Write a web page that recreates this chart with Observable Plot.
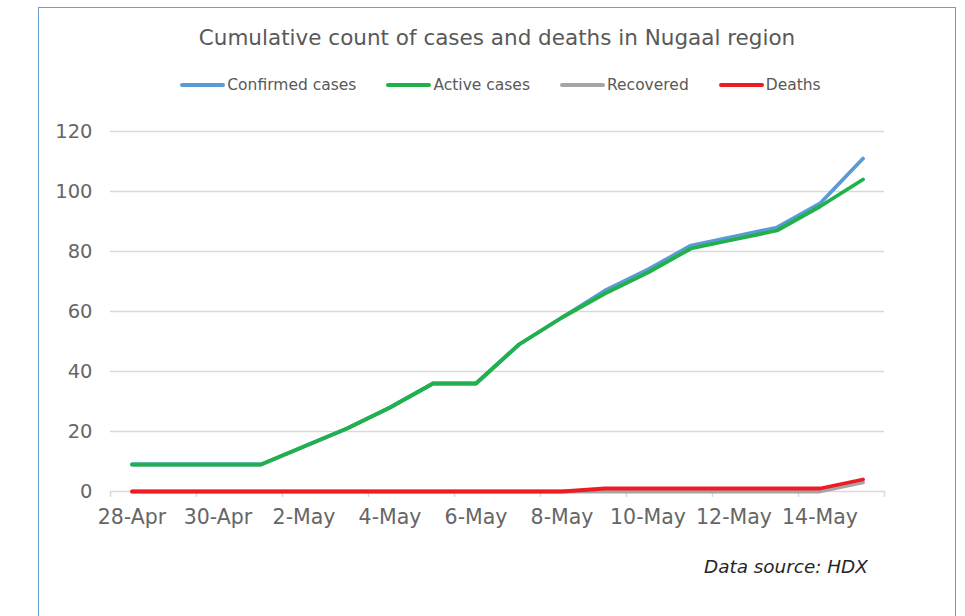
<!DOCTYPE html>
<html><head><meta charset="utf-8">
<script src="https://cdn.jsdelivr.net/npm/d3@7"></script>
<script src="https://cdn.jsdelivr.net/npm/@observablehq/plot@0.6"></script>
<style>
body{margin:0;background:#fff;}
#wrap{position:relative;width:965px;height:616px;overflow:hidden;font-family:"DejaVu Sans",sans-serif;background:#fff;}
#frame{position:absolute;left:38px;top:7px;width:916px;height:700px;border:1.5px solid #6a9fd8;}
#title{position:absolute;left:0;width:994px;top:25px;text-align:center;font-family:"DejaVu Sans",sans-serif;font-size:21.5px;color:#595959;white-space:nowrap;}
#legend{position:absolute;left:0;width:1001px;top:76px;display:flex;justify-content:center;font-family:"DejaVu Sans",sans-serif;font-size:15.5px;color:#595959;}
.item{display:flex;align-items:center;margin:0 15px;}
.sw{width:45px;height:4px;border-radius:2px;margin-right:2px;}
#plot{position:absolute;left:0;top:0;}
#caption{position:absolute;left:704px;top:556px;font-style:italic;font-size:18.4px;color:#262626;white-space:nowrap;}
</style></head>
<body>
<div id="wrap">
  <div id="frame"></div>
  <div id="plot"></div>
  <div id="title">Cumulative count of cases and deaths in Nugaal region</div>
  <div id="legend"></div>
  <div id="caption">Data source: HDX</div>
</div>
<script>
const dates = ["2020-04-28","2020-04-29","2020-04-30","2020-05-01","2020-05-02","2020-05-03","2020-05-04","2020-05-05","2020-05-06","2020-05-07","2020-05-08","2020-05-09","2020-05-10","2020-05-11","2020-05-12","2020-05-13","2020-05-14","2020-05-15"];
const confirmed = [9,9,9,9,15,21,28,36,36,49,58,67,74,82,85,88,96,111];
const active    = [9,9,9,9,15,21,28,36,36,49,58,66,73,81,84,87,95,104];
const recovered = [0,0,0,0,0,0,0,0,0,0,0,0,0,0,0,0,0,3];
const deaths    = [0,0,0,0,0,0,0,0,0,0,0,1,1,1,1,1,1,4];
const seriesNames = ["Confirmed cases","Active cases","Recovered","Deaths"];
const seriesColors = ["#5b9bd5","#21b14b","#a5a5a5","#ed1c24"];
const yTicks = [0,20,40,60,80,100,120];
const xLabelDates = ["2020-04-28","2020-04-30","2020-05-02","2020-05-04","2020-05-06","2020-05-08","2020-05-10","2020-05-12","2020-05-14"];
const xBoundaryDates = ["2020-04-27T12:00Z","2020-04-29T12:00Z","2020-05-01T12:00Z","2020-05-03T12:00Z","2020-05-05T12:00Z","2020-05-07T12:00Z","2020-05-09T12:00Z","2020-05-11T12:00Z","2020-05-13T12:00Z","2020-05-15T12:00Z"];

const parse = d => new Date(d.length === 10 ? d + "T00:00Z" : d);
const allSeries = [confirmed, active, recovered, deaths];
const rows = [];
allSeries.forEach((vals, s) => vals.forEach((v, i) => rows.push({date: parse(dates[i]), value: v, series: seriesNames[s]})));

const fmt = d3.utcFormat("%-d-%b");
const chart = Plot.plot({
  width: 965, height: 560,
  marginLeft: 110, marginRight: 81, marginTop: 131, marginBottom: 69,
  style: {fontFamily: "DejaVu Sans, sans-serif", background: "transparent", overflow: "visible"},
  x: {type: "utc", domain: [parse(xBoundaryDates[0]), parse(xBoundaryDates[xBoundaryDates.length - 1])]},
  y: {domain: [0, 120]},
  color: {domain: seriesNames, range: seriesColors},
  marks: [
    Plot.gridY(yTicks.filter(t => t > 0), {stroke: "#d9d9d9", strokeOpacity: 1, strokeWidth: 1.5}),
    Plot.ruleY([0], {stroke: "#d9d9d9", strokeWidth: 1.5}),
    Plot.axisX(xBoundaryDates.map(parse), {tickSize: 6, tickFormat: () => "", stroke: "#d9d9d9", strokeWidth: 1.5, label: null}),
    Plot.axisX(xLabelDates.map(parse), {tickSize: 0, tickPadding: 18, tickFormat: fmt, fontSize: 20.5, fill: "#666666", label: null}),
    Plot.axisY(yTicks, {tickSize: 0, tickPadding: 18, fontSize: 19.5, fill: "#666666", label: null}),
    Plot.line(rows, {x: "date", y: "value", z: "series", stroke: "series", strokeWidth: 3.8, strokeLinecap: "round", strokeLinejoin: "round"})
  ]
});
document.getElementById("plot").appendChild(chart);

const legend = document.getElementById("legend");
seriesNames.forEach((n, i) => {
  const it = document.createElement("div"); it.className = "item";
  const sw = document.createElement("div"); sw.className = "sw"; sw.style.background = seriesColors[i];
  const tx = document.createElement("span"); tx.textContent = n;
  it.appendChild(sw); it.appendChild(tx); legend.appendChild(it);
});
</script>
</body></html>
